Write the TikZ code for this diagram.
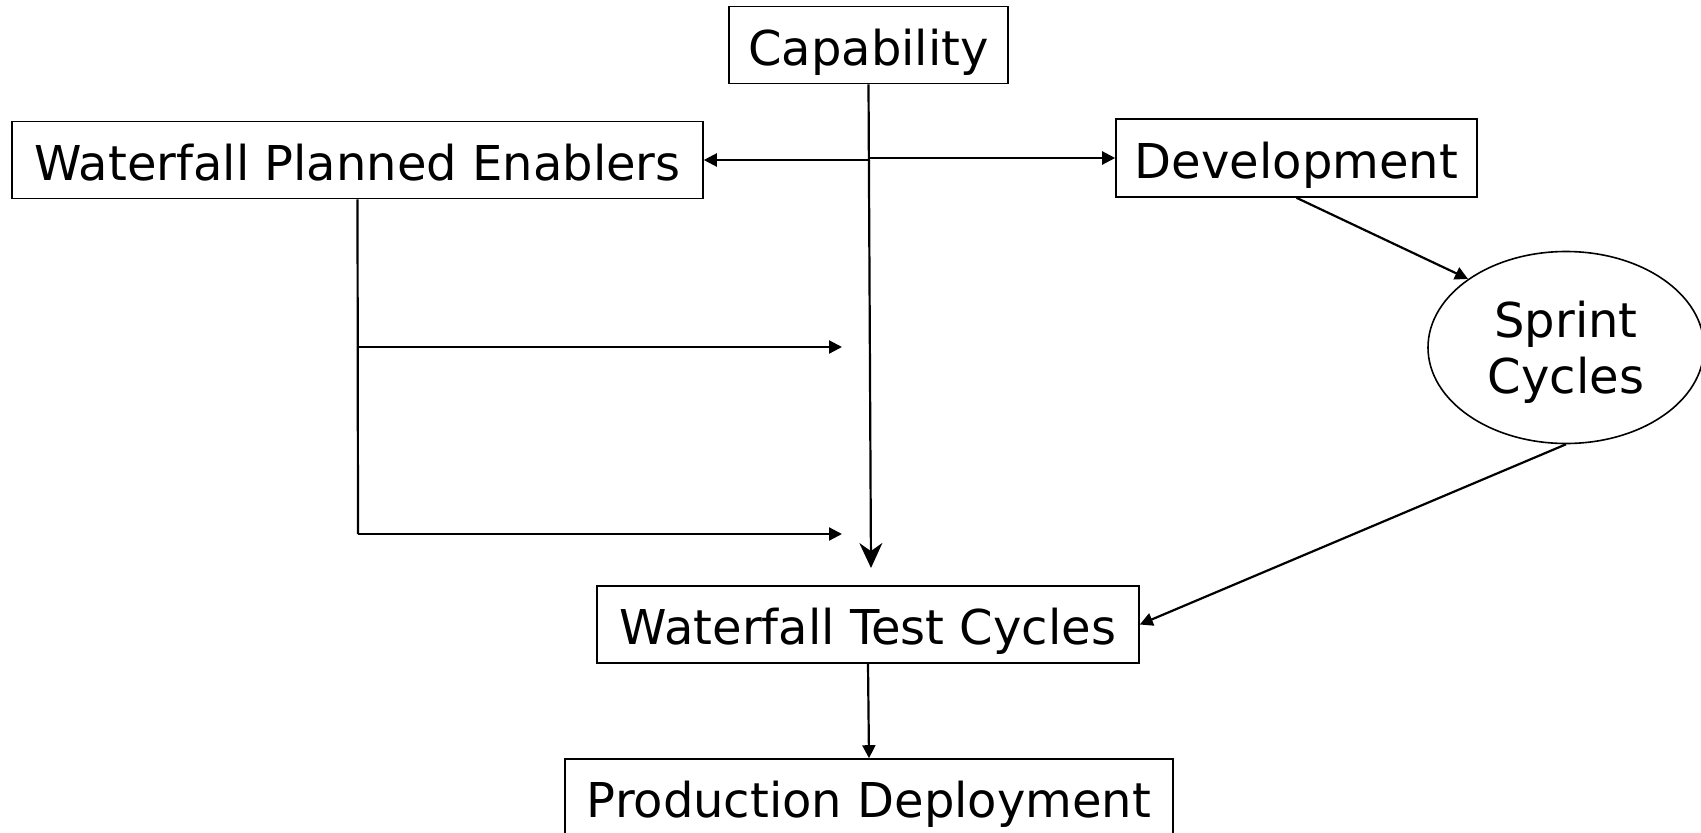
\documentclass[tikz,border=0pt]{standalone}
\usepackage{fontspec}
\setmainfont{DejaVu Sans}
\usetikzlibrary{arrows.meta,shapes.geometric}
\begin{document}
\begin{tikzpicture}[x=1pt,y=-1pt,
  every node/.style={font=\fontsize{48}{56}\selectfont},
  box/.style={draw,line width=1.6pt,inner sep=0pt,align=center,text height=40pt,text depth=0pt},
  oval/.style={draw,ellipse,line width=1.6pt,inner sep=0pt,align=center,text depth=0pt,minimum width=276pt,minimum height=192pt},
  conn/.style={line width=2.2pt,-{Triangle[length=13pt,width=13pt]}},
  bigarrow/.style={line width=2.2pt,-{Stealth[length=25pt,width=23pt]}}]
\useasboundingbox (0,0) rectangle (1701,833);
\node[box,minimum width=279pt,minimum height=77pt] (cap) at (868.5,45) {Capability};
\node[box,minimum width=691pt,minimum height=77pt] (wpe) at (357.5,160) {Waterfall Planned Enablers};
\node[box,minimum width=361pt,minimum height=78pt] (dev) at (1296.5,158) {Development};
\node[oval] (spr) at (1566,347.5) {Sprint\\Cycles};
\node[box,minimum width=542pt,minimum height=77pt] (wtc) at (868,624.5) {Waterfall Test Cycles};
\node[box,minimum width=608pt,minimum height=77pt] (pd) at (869,797.5) {Production Deployment};
\coordinate (capend) at (871,568);
\coordinate (j1) at (868.5,160);
\coordinate (j2) at (868.5,158);
\coordinate (w1) at (358,347);
\coordinate (w2) at (358,534);
\coordinate (t1) at (842,347);
\coordinate (t2) at (842,534);
\draw[bigarrow] (cap.south) -- (capend);
\draw[conn] (j1) -- (wpe.east |- j1);
\draw[conn] (j2) -- (dev.west |- j2);
\draw[line width=2.2pt] (wpe.south) -- (w2);
\draw[conn] (w1) -- (t1);
\draw[conn] (w2) -- (t2);
\draw[conn] (dev.south) -- (spr.145);
\draw[conn] (spr.south) -- (wtc.east);
\draw[conn] (wtc.south) -- (pd.north);
\end{tikzpicture}
\end{document}
